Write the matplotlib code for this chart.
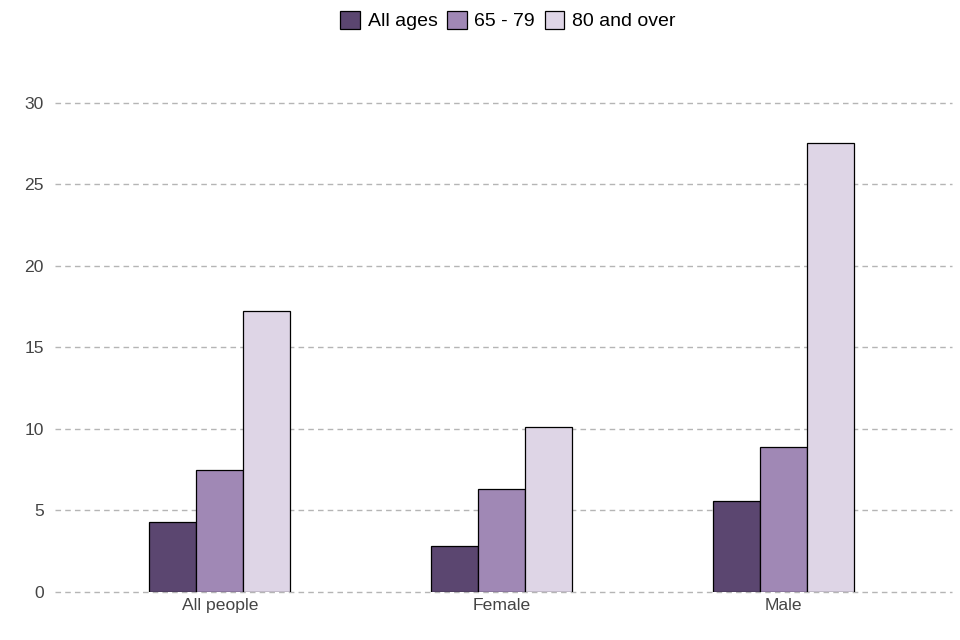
#!/usr/bin/env python3

# plot.py - grouped bar chart by sex and age band

import numpy as np
import matplotlib
matplotlib.use("Agg")
import matplotlib.pyplot as plt
from matplotlib.patches import Patch

# Data
categories = ["All people", "Female", "Male"]
series_names = ["All ages", "65 - 79", "80 and over"]
all_ages = [4.3, 2.8, 5.6]
age_65_79 = [7.5, 6.3, 8.9]
age_80_over = [17.2, 10.1, 27.5]
y_ticks = [0, 5, 10, 15, 20, 25, 30]

colors = ["#5b4670", "#a088b5", "#ded5e6"]

plt.rcParams['font.family'] = ['Liberation Sans', 'DejaVu Sans']

fig = plt.figure(figsize=(9.6, 6.4), dpi=100)
ax = fig.add_axes([55 / 960, 48 / 640, 897 / 960, 522 / 640])

x = np.arange(len(categories))
width = 1 / 6
series = [all_ages, age_65_79, age_80_over]
for i, (vals, col) in enumerate(zip(series, colors)):
    ax.bar(x + (i - 1) * width, vals, width, color=col, edgecolor="black",
           linewidth=0.9, zorder=3)

ax.set_xlim(-0.585, 2.596)
ax.set_ylim(0, 32)
ax.set_yticks(y_ticks)
ax.set_xticks(x)
ax.set_xticklabels(categories)
ax.tick_params(axis="both", length=0, labelsize=12.6, colors="#444444")
ax.tick_params(axis="y", pad=8)
ax.tick_params(axis="x", pad=4)
ax.yaxis.grid(True, linestyle=(0, (4, 3)), color="#b5b5b5", linewidth=1, zorder=0)
for line in ax.get_ygridlines():
    line.set_clip_on(False)
for s in ax.spines.values():
    s.set_visible(False)

handles = [Patch(facecolor=c, edgecolor="black", linewidth=0.9) for c in colors]
fig.legend(handles, series_names, loc="upper center", bbox_to_anchor=(0.529, 1.01),
           ncol=3, frameon=False, fontsize=14.0, handlelength=1.0, handleheight=1.0,
           handletextpad=0.4, columnspacing=0.5)

plt.savefig("out.png", dpi=100)
